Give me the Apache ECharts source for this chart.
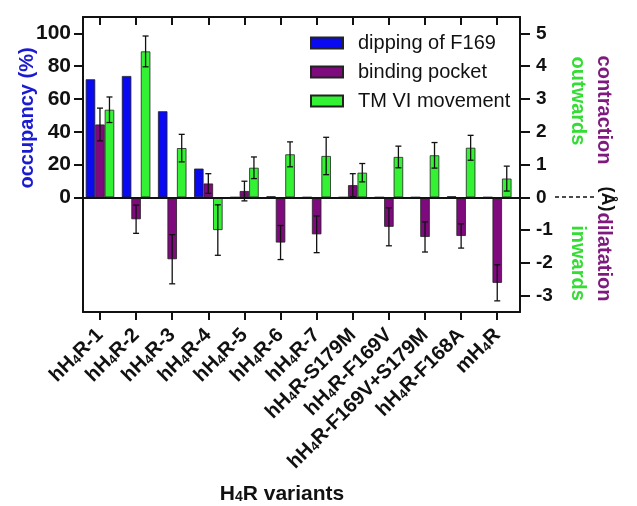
<!DOCTYPE html>
<html><head><meta charset="utf-8">
<script src="https://cdn.jsdelivr.net/npm/echarts@6/dist/echarts.min.js"></script>
<style>html,body{margin:0;padding:0;background:#fff}#c{width:637px;height:506px}</style>
</head><body><div id="c"></div>
<script>
const categories = ['hH4R-1','hH4R-2','hH4R-3','hH4R-4','hH4R-5','hH4R-6','hH4R-7','hH4R-S179M','hH4R-F169V','hH4R-F169V+S179M','hH4R-F168A','mH4R'];
const dipping = [72, 74, 52.5, 17.5, 0, 0.6, 0, 0, 0, 0, 0.6, 0];
const pocket = [2.22, -0.67, -1.89, 0.42, 0.19, -1.38, -1.13, 0.37, -0.9, -1.21, -1.18, -2.61];
const pocketErr = [0.5, 0.43, 0.75, 0.3, 0.3, 0.52, 0.56, 0.35, 0.58, 0.46, 0.37, 0.55];
const tm6 = [2.67, 4.45, 1.5, -1.0, 0.9, 1.31, 1.26, 0.75, 1.23, 1.28, 1.51, 0.57];
const tm6Err = [0.39, 0.47, 0.42, 0.77, 0.33, 0.38, 0.57, 0.28, 0.33, 0.39, 0.38, 0.38];
const leftTicks = [0, 20, 40, 60, 80, 100];
const rightTicks = [-3, -2, -1, 0, 1, 2, 3, 4, 5];

const FONT = 'Liberation Sans';
const BLUE = '#0a0af2', PURPLE = '#7e0a7e', GREEN = '#33f233';
const BW = 9.5;
const catIdx = categories.map((c, i) => i);

function errSeries(vals, errs, off) {
  return {
    type: 'custom', xAxisIndex: 0, yAxisIndex: 1, z: 5, silent: true,
    data: vals.map((v, i) => [i, v, errs[i]]),
    renderItem: function (params, api) {
      const x = api.value(0), v = api.value(1), e = api.value(2);
      const p1 = api.coord([x, v - e]), p2 = api.coord([x, v + e]);
      const cx = p1[0] + off, cap = 3;
      const st = { stroke: '#111', lineWidth: 1.3 };
      return { type: 'group', children: [
        { type: 'line', shape: { x1: cx, y1: p1[1], x2: cx, y2: p2[1] }, style: st },
        { type: 'line', shape: { x1: cx - cap, y1: p1[1], x2: cx + cap, y2: p1[1] }, style: st },
        { type: 'line', shape: { x1: cx - cap, y1: p2[1], x2: cx + cap, y2: p2[1] }, style: st }
      ]};
    }
  };
}

const chart = echarts.init(document.getElementById('c'));
const subRich = { s: { fontSize: 13, fontWeight: 'bold', fontFamily: FONT, color: '#111', verticalAlign: 'bottom', lineHeight: 14 } };
chart.setOption({
  animation: false,
  grid: { left: 83, right: 117, top: 17, bottom: 194 },
  legend: {
    orient: 'vertical', left: 305, top: 28, itemWidth: 32, itemHeight: 11, itemGap: 9,
    icon: 'rect',
    textStyle: { fontSize: 20, fontFamily: FONT, color: '#111', padding: [0, 0, 0, 10] },
    data: ['dipping of F169', 'binding pocket', 'TM VI movement']
  },
  xAxis: [
    { type: 'value', min: -0.47, max: 11.63, position: 'bottom',
      axisLine: { onZero: false, lineStyle: { color: '#111', width: 2 } },
      axisTick: { customValues: catIdx, length: 8, lineStyle: { color: '#111', width: 2 } },
      axisLabel: { customValues: catIdx, rotate: 45, margin: 20, fontSize: 20, fontWeight: 'bold', fontFamily: FONT, color: '#111',
        formatter: function (v) { const n = categories[Math.round(v)]; return n.replace('H4R', 'H{s|4}R'); },
        rich: subRich },
      splitLine: { show: false } },
    { type: 'value', min: -0.47, max: 11.63, position: 'top',
      axisLine: { onZero: false, lineStyle: { color: '#111', width: 2 } },
      axisTick: { customValues: catIdx, inside: true, length: 8, lineStyle: { color: '#111', width: 2 } },
      axisLabel: { show: false }, splitLine: { show: false } }
  ],
  yAxis: [
    { type: 'value', min: -70, max: 110, position: 'left',
      axisLine: { show: true, onZero: false, lineStyle: { color: '#111', width: 2 } },
      axisTick: { customValues: leftTicks, length: 9, lineStyle: { color: '#111', width: 2 } },
      axisLabel: { customValues: leftTicks, margin: 12, fontSize: 21, fontWeight: 'bold', fontFamily: FONT, color: '#111' },
      splitLine: { show: false } },
    { type: 'value', min: -3.5, max: 5.5, position: 'right',
      axisLine: { show: true, onZero: false, lineStyle: { color: '#111', width: 2 } },
      axisTick: { customValues: rightTicks, length: 10, lineStyle: { color: '#111', width: 2 } },
      axisLabel: { customValues: rightTicks, margin: 16, fontSize: 19, fontWeight: 'bold', fontFamily: FONT, color: '#111' },
      splitLine: { show: false } }
  ],
  series: [
    { name: 'dipping of F169', type: 'bar', xAxisIndex: 0, yAxisIndex: 0, barWidth: BW, barGap: '0%',
      data: dipping.map((v, i) => [i, v]),
      itemStyle: { color: BLUE, borderColor: '#222', borderWidth: 0.8 },
      markLine: { silent: true, symbol: 'none', label: { show: false },
        lineStyle: { color: '#111', width: 2, type: 'solid' }, data: [{ yAxis: 0 }] } },
    { name: 'binding pocket', type: 'bar', xAxisIndex: 0, yAxisIndex: 1, barWidth: BW, barGap: '0%',
      data: pocket.map((v, i) => [i, v]),
      itemStyle: { color: PURPLE, borderColor: '#222', borderWidth: 0.8 } },
    { name: 'TM VI movement', type: 'bar', xAxisIndex: 0, yAxisIndex: 1, barWidth: BW, barGap: '0%',
      data: tm6.map((v, i) => [i, v]),
      itemStyle: { color: GREEN, borderColor: '#222', borderWidth: 0.8 } },
    errSeries(pocket, pocketErr, 0),
    errSeries(tm6, tm6Err, BW)
  ],
  graphic: [
    { type: 'text', x: 27, y: 118, rotation: Math.PI / 2,
      style: { text: 'occupancy (%)', fill: '#1a1ad0', font: 'bold 20px ' + FONT, align: 'center', verticalAlign: 'middle' } },
    { type: 'text', x: 604, y: 110, rotation: -Math.PI / 2,
      style: { text: 'contraction', fill: '#7e1a7e', font: 'bold 20px ' + FONT, align: 'center', verticalAlign: 'middle' } },
    { type: 'text', x: 578, y: 101, rotation: -Math.PI / 2,
      style: { text: 'outwards', fill: '#33dd33', font: 'bold 20px ' + FONT, align: 'center', verticalAlign: 'middle' } },
    { type: 'text', x: 604, y: 257, rotation: -Math.PI / 2,
      style: { text: 'dilatation', fill: '#7e1a7e', font: 'bold 20px ' + FONT, align: 'center', verticalAlign: 'middle' } },
    { type: 'text', x: 578, y: 263, rotation: -Math.PI / 2,
      style: { text: 'inwards', fill: '#33dd33', font: 'bold 20px ' + FONT, align: 'center', verticalAlign: 'middle' } },
    { type: 'text', x: 607, y: 199, rotation: -Math.PI / 2,
      style: { text: '(Å)', fill: '#111', font: 'bold 18px ' + FONT, align: 'center', verticalAlign: 'middle' } },
    { type: 'line', shape: { x1: 555, y1: 197, x2: 595, y2: 197 }, style: { stroke: '#111', lineWidth: 1.3, lineDash: [4, 3] } },
    { type: 'text', x: 282, y: 494,
      style: { text: 'H{s|4}R variants', fill: '#111', font: 'bold 21px ' + FONT, align: 'center', verticalAlign: 'middle',
        rich: { s: { fontSize: 14, fontWeight: 'bold', fontFamily: FONT, fill: '#111', verticalAlign: 'bottom', lineHeight: 15 } } } }
  ]
});
</script></body></html>
